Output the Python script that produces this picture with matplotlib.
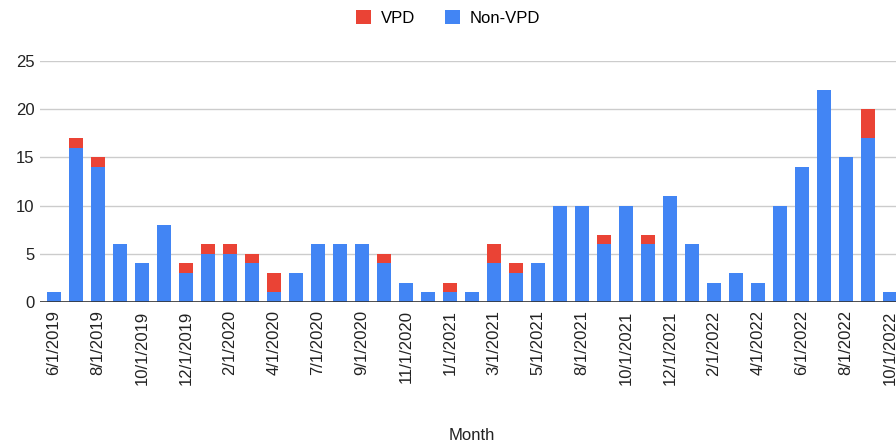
import matplotlib.pyplot as plt

plt.rcParams['font.family'] = ['Liberation Sans', 'DejaVu Sans']

# month categories (as shown on the chart)
months = ["6/1/2019", "7/1/2019", "8/1/2019", "9/1/2019", "10/1/2019", "11/1/2019",
          "12/1/2019", "1/1/2020", "2/1/2020", "3/1/2020", "4/1/2020", "5/1/2020",
          "7/1/2020", "8/1/2020", "9/1/2020", "10/1/2020", "11/1/2020", "12/1/2020",
          "1/1/2021", "2/1/2021", "3/1/2021", "4/1/2021", "5/1/2021", "6/1/2021",
          "8/1/2021", "9/1/2021", "10/1/2021", "11/1/2021", "12/1/2021", "1/1/2022",
          "2/1/2022", "3/1/2022", "4/1/2022", "5/1/2022", "6/1/2022", "7/1/2022",
          "8/1/2022", "9/1/2022", "10/1/2022"]

non_vpd = [1, 16, 14, 6, 4, 8, 3, 5, 5, 4, 1, 3,
           6, 6, 6, 4, 2, 1, 1, 1, 4, 3, 4, 10,
           10, 6, 10, 6, 11, 6, 2, 3, 2, 10, 14, 22,
           15, 17, 1]
vpd = [0, 1, 1, 0, 0, 0, 1, 1, 1, 1, 2, 0,
       0, 0, 0, 1, 0, 0, 1, 0, 2, 1, 0, 0,
       0, 1, 0, 1, 0, 0, 0, 0, 0, 0, 0, 0,
       0, 3, 0]

blue = "#4285F4"
red = "#EA4335"

fig = plt.figure(figsize=(8.96, 4.47), dpi=100)
ax = fig.add_axes([40 / 896, 1 - 302 / 447, 1 - 40 / 896, 241 / 447])

x = list(range(len(months)))
ax.bar(x, non_vpd, width=0.64, color=blue, label="Non-VPD", zorder=3)
ax.bar(x, vpd, width=0.64, bottom=non_vpd, color=red, label="VPD", zorder=3)

ax.set_ylim(0, 25)
ax.set_yticks([0, 5, 10, 15, 20, 25])
ax.set_xlim(-0.64, 38.27)
ax.set_xticks(x[::2])
ax.set_xticklabels(months[::2], rotation=90, fontsize=12, color="#222222")
ax.tick_params(axis='y', labelsize=12, labelcolor="#222222", length=0, pad=4)
ax.tick_params(axis='x', length=0, pad=6)

ax.grid(axis='y', color="#cccccc", linewidth=1, zorder=0)
ax.axhline(0, color="#333333", linewidth=1.2, zorder=4)
for s in ax.spines.values():
    s.set_visible(False)

fig.text(472 / 896, 1 - 436 / 447, "Month", ha='center', va='center',
         fontsize=12, color="#222222")

handles, labels = ax.get_legend_handles_labels()
fig.legend(handles[::-1], labels[::-1], loc='center', bbox_to_anchor=(0.5, 1 - 18 / 447),
           ncol=2, frameon=False, fontsize=12, handlelength=0.9, handleheight=0.9,
           columnspacing=1.8, handletextpad=0.6)

fig.savefig("out.png", dpi=100)
